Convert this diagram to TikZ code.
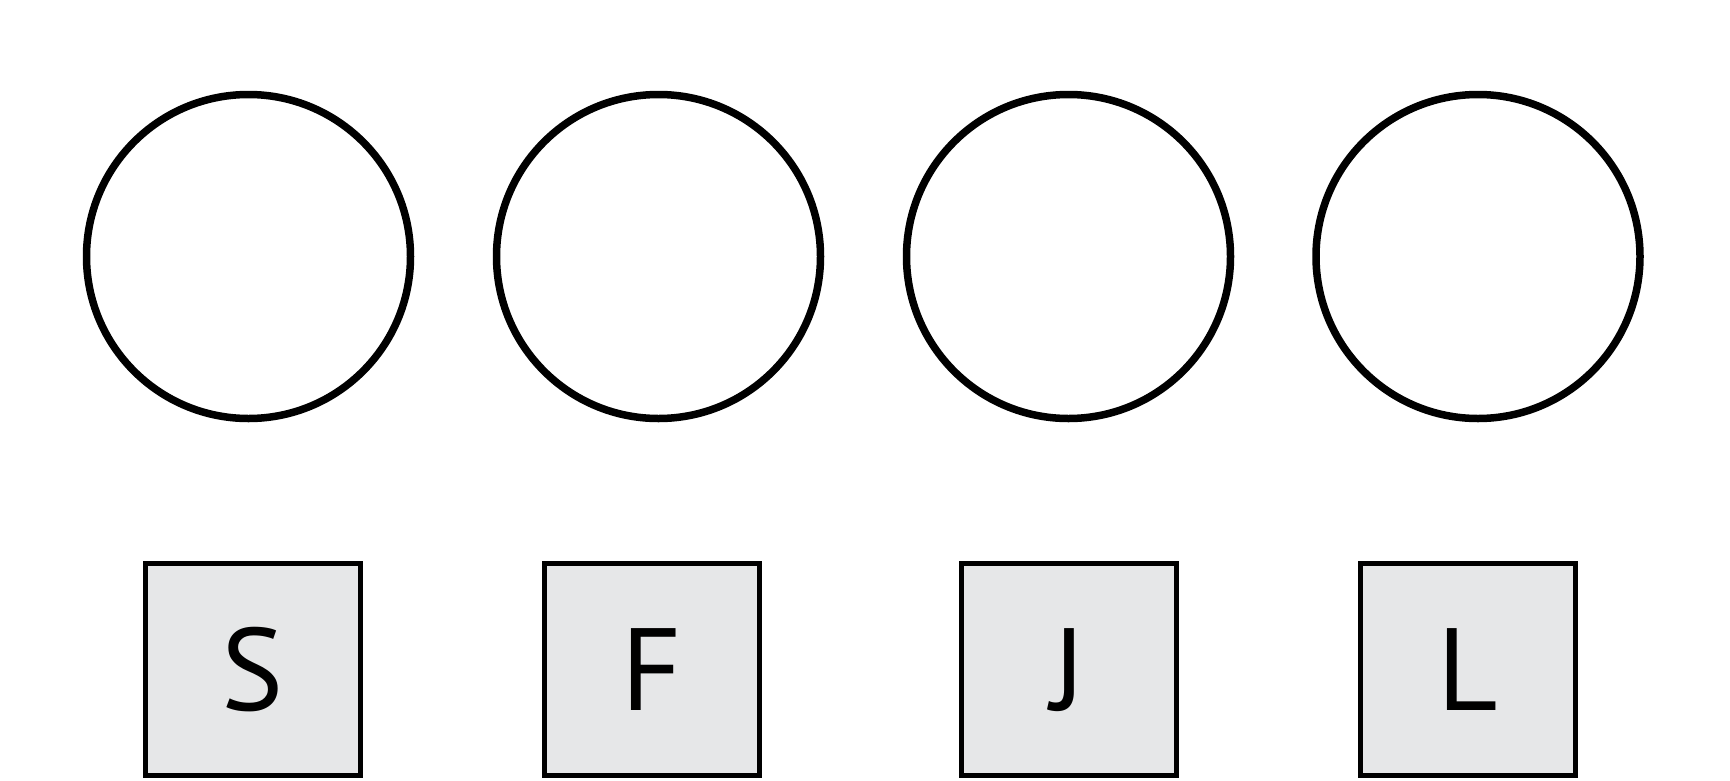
\documentclass[tikz,border=0pt]{standalone}
\usepackage{fontspec}
\setmainfont{PT Sans}
\definecolor{boxgray}{HTML}{E6E7E8}
\begin{document}
\begin{tikzpicture}[x=1pt,y=-1pt,
  ring/.style={circle,draw=black,line width=7.5pt,minimum size=324pt,inner sep=0pt},
  keybox/.style={rectangle,draw=black,fill=boxgray,line width=5pt,minimum width=215pt,minimum height=212pt,inner sep=0pt,text height=82pt,text depth=0pt,font=\fontsize{117}{117}\selectfont}]
\useasboundingbox (0,0) rectangle (1730,780);
\node[ring] (c1) at (248.5,256.5) {};
\node[ring] (c2) at (658.5,256.5) {};
\node[ring] (c3) at (1068.5,256.5) {};
\node[ring] (c4) at (1478,256.5) {};
\node[keybox] (s) at (252.5,669) {S};
\node[keybox] (f) at (651.5,669) {F};
\node[keybox] (j) at (1068.5,669) {J};
\node[keybox] (l) at (1467.5,669) {L};
\end{tikzpicture}
\end{document}
